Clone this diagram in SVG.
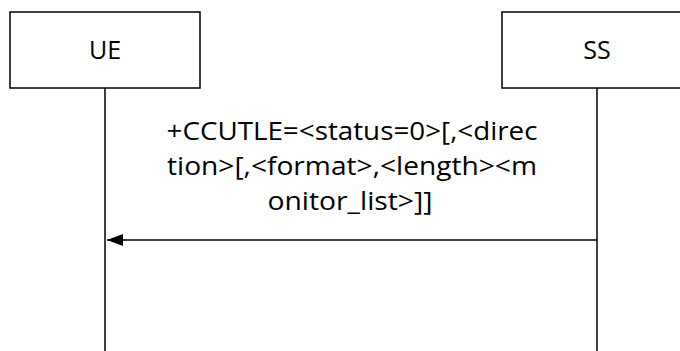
<svg xmlns="http://www.w3.org/2000/svg" width="680" height="351" viewBox="0 0 680 351">
<defs>
<style>
.box{fill:#fff;stroke:#000;stroke-width:1.5}
.life{stroke:#000;stroke-width:1.5;fill:none}
.lbl{font-family:"Open Sans","Noto Sans","Liberation Sans",sans-serif;font-size:25px;fill:#000;text-anchor:middle}
</style>
<marker id="ah" markerWidth="16" markerHeight="12" refX="16" refY="6" orient="auto" markerUnits="userSpaceOnUse">
<path d="M0,0 L16,6 L0,12 Z" fill="#000"/>
</marker>
</defs>
<rect width="680" height="351" fill="#fff"/>
<g id="connectors">
<line class="life" x1="105" y1="88" x2="105" y2="351"/>
<line class="life" x1="597" y1="88" x2="597" y2="351"/>
<line class="life" x1="597" y1="240" x2="107" y2="240" marker-end="url(#ah)"/>
<text class="lbl" x="352" y="140" textLength="371" lengthAdjust="spacingAndGlyphs">+CCUTLE=&lt;status=0&gt;[,&lt;direc</text>
<text class="lbl" x="352" y="175" textLength="370" lengthAdjust="spacingAndGlyphs">tion&gt;[,&lt;format&gt;,&lt;length&gt;&lt;m</text>
<text class="lbl" x="350" y="210" textLength="165" lengthAdjust="spacingAndGlyphs">onitor_list&gt;]]</text>
</g>
<g id="UE">
<rect class="box" x="10" y="12" width="190" height="76"/>
<text class="lbl" x="105" y="59">UE</text>
</g>
<g id="SS">
<rect class="box" x="502" y="12" width="190" height="76"/>
<text class="lbl" x="597" y="59">SS</text>
</g>
</svg>
